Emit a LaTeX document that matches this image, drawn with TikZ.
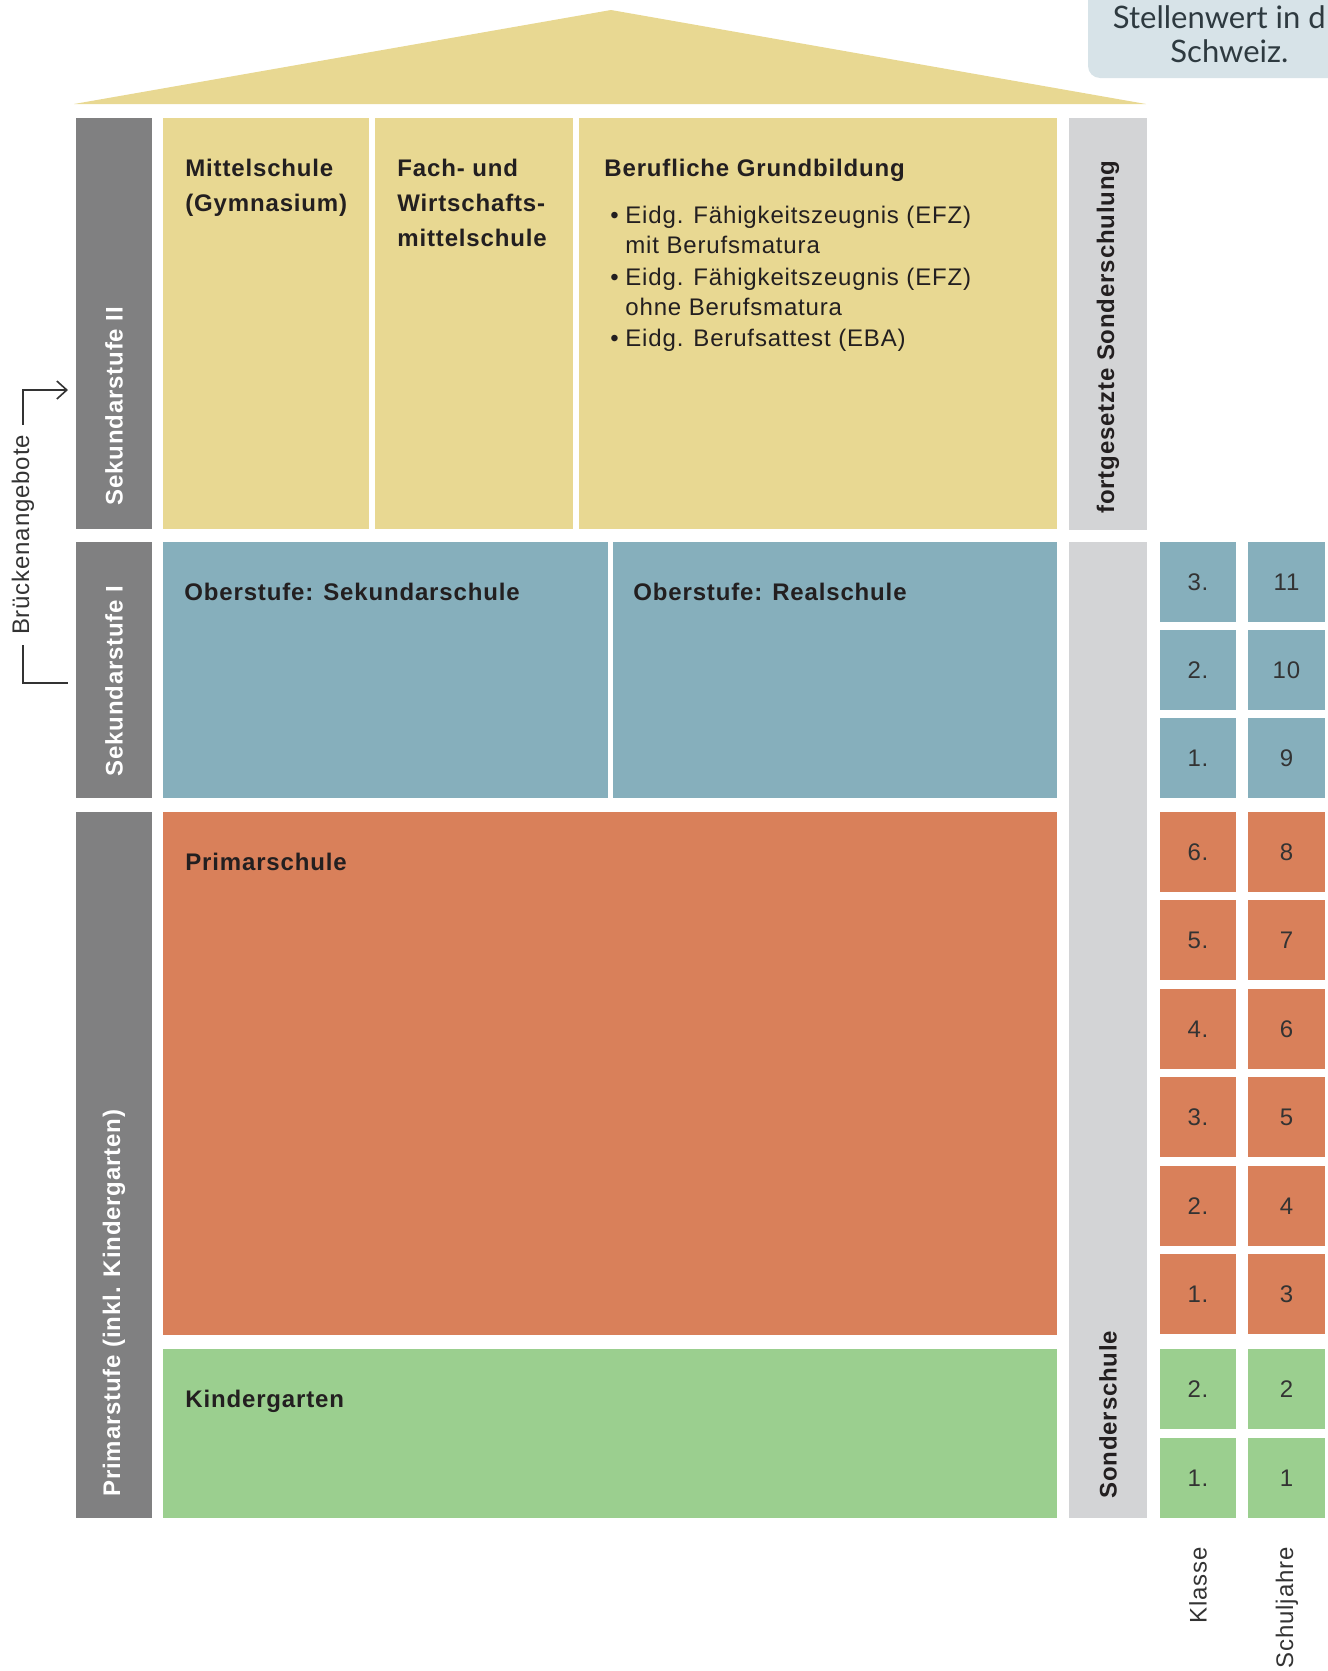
\documentclass[tikz,border=0pt]{standalone}
\usepackage{fontspec}
\setmainfont{Liberation Sans}[LetterSpace=3.5]
\newfontfamily\bubblefont{Lato}
\usetikzlibrary{positioning, fit, arrows.meta}
\definecolor{stufegray}{HTML}{808081}
\definecolor{sondergray}{HTML}{D3D4D6}
\definecolor{sekyellow}{HTML}{E8D892}
\definecolor{sekblue}{HTML}{86AFBC}
\definecolor{primorange}{HTML}{D9805A}
\definecolor{kigagreen}{HTML}{9BCF8F}
\definecolor{bubbleblue}{HTML}{D7E3E8}
\definecolor{bubbletext}{HTML}{2E3A40}
\definecolor{labelblack}{HTML}{231F20}
\definecolor{numgray}{HTML}{333333}
\newcommand{\bul}{\hspace*{3pt}\makebox[7.5pt][l]{\textbullet}}
\newcommand{\bulgap}{\hspace*{10.5pt}}

\begin{document}
\begin{tikzpicture}[x=0.5pt, y=-0.5pt,
                    block/.style={rectangle, inner sep=0pt, outer sep=0pt},
                    stufe_block/.style={block, fill=stufegray},
                    sonder_block/.style={block, fill=sondergray},
                    school_label/.style={anchor=north west, align=left, inner sep=0pt, text=labelblack, font=\bfseries\fontsize{12}{17.5}\selectfont},
                    stufe_label/.style={rotate=90, anchor=west, inner sep=0pt, text=white, font=\bfseries\fontsize{12}{14}\selectfont},
                    sonder_label/.style={stufe_label, text=labelblack},
                    year_text/.style={inner sep=0pt, text=numgray, font=\fontsize{12}{14}\selectfont},
                    axis_label/.style={rotate=90, anchor=east, inner sep=0pt, text=numgray, font=\fontsize{12}{14}\selectfont},
                    bubble_text/.style={inner sep=0pt, text=bubbletext, font=\bubblefont\fontsize{15.5}{17}\selectfont},
                    bridge_line/.style={draw=numgray, line width=0.8pt}
                ]
    \useasboundingbox (0,0) rectangle (1328,1671);

    \fill[bubbleblue, rounded corners=6pt] (1088,-20) -- (1088,78) -- (1350,78) -- (1350,-20) -- cycle;
    \node[bubble_text, anchor=base east] (stellen_a) at (1326,28) {Stellenwert in d};
    \node[bubble_text, anchor=base west] (stellen_b) at (1170,62) {Schweiz.};

    \fill[sekyellow] (74,104) -- (611,10) -- (1146,104) -- cycle;

    \node[stufe_block, fit={(76,118) (152,529)}] (sek2) {};
    \node[stufe_block, fit={(76,542) (152,798)}] (sek1) {};
    \node[stufe_block, fit={(76,812) (152,1518)}] (prim) {};
    \node[stufe_label] (sek2_label) at ([yshift=11.5pt]sek2.south) {Sekundarstufe II};
    \node[stufe_label] (sek1_label) at ([yshift=10.5pt]sek1.south) {Sekundarstufe I};
    \node[stufe_label] (prim_label) at ([yshift=10.5pt]prim.south) {Primarstufe (inkl. Kindergarten)};

    \node[block, fill=sekyellow, fit={(163,118) (369,529)}] (mittel) {};
    \node[block, fill=sekyellow, fit={(375,118) (573,529)}] (fach) {};
    \node[block, fill=sekyellow, fit={(579,118) (1057,529)}] (beruf) {};
    \node[block, fill=sekblue, fit={(163,542) (608,798)}] (obsek) {};
    \node[block, fill=sekblue, fit={(613,542) (1057,798)}] (obreal) {};
    \node[block, fill=primorange, fit={(163,812) (1057,1335)}] (primar) {};
    \node[block, fill=kigagreen, fit={(163,1349) (1057,1518)}] (kiga) {};

    \node[school_label] (mittel_text) at ([xshift=11pt, yshift=-20.5pt]mittel.north west) {Mittelschule\\(Gymnasium)};
    \node[school_label] (fach_text) at ([xshift=11pt, yshift=-20.5pt]fach.north west) {Fach- und\\Wirtschafts-\\mittelschule};
    \node[school_label, font=\fontsize{12}{15}\selectfont] (beruf_text) at ([xshift=12.5pt, yshift=-20.5pt]beruf.north west) {%
        \textbf{Berufliche Grundbildung}\\[8.5pt]
        \bul Eidg. Fähigkeitszeugnis (EFZ)\\
        \bulgap mit Berufsmatura\\[1pt]
        \bul Eidg. Fähigkeitszeugnis (EFZ)\\
        \bulgap ohne Berufsmatura\\[0.5pt]
        \bul Eidg. Berufsattest (EBA)};
    \node[school_label] (obsek_text) at ([xshift=10.5pt, yshift=-20.5pt]obsek.north west) {Oberstufe: Sekundarschule};
    \node[school_label] (obreal_text) at ([xshift=10pt, yshift=-20.5pt]obreal.north west) {Oberstufe: Realschule};
    \node[school_label] (primar_text) at ([xshift=11pt, yshift=-20.5pt]primar.north west) {Primarschule};
    \node[school_label] (kiga_text) at ([xshift=11pt, yshift=-20.5pt]kiga.north west) {Kindergarten};

    \node[sonder_block, fit={(1069,118) (1147,530)}] (fortsonder) {};
    \node[sonder_block, fit={(1069,542) (1147,1518)}] (sonder) {};
    \node[sonder_label] (fortsonder_label) at ([yshift=8pt]fortsonder.south) {fortgesetzte Sonderschulung};
    \node[sonder_label] (sonder_label) at ([yshift=9.5pt]sonder.south) {Sonderschule};

    \foreach \klasse/\jahr/\ytop/\farbe [count=\i] in {3./11/542/sekblue, 2./10/630/sekblue, 1./9/718/sekblue,
                                                     6./8/812/primorange, 5./7/900/primorange, 4./6/989/primorange,
                                                     3./5/1077/primorange, 2./4/1166/primorange, 1./3/1254/primorange,
                                                     2./2/1349/kigagreen, 1./1/1438/kigagreen}
    {
        \node[block, fill=\farbe, fit={(1160,\ytop) (1236,\ytop+80)}] (klasse\i) {};
        \node[block, fill=\farbe, fit={(1248,\ytop) (1325,\ytop+80)}] (jahr\i) {};
        \node[year_text] at (klasse\i) {\klasse};
        \node[year_text] at (jahr\i) {\jahr};
    }
    \node[axis_label] (klasse_label) at (1198,1547) {Klasse};
    \node[axis_label] (jahr_label) at (1287,1547) {Schuljahre};

    \node[rotate=90, inner xsep=5pt, inner ysep=0pt, text=numgray, font=\fontsize{12}{14}\selectfont] (bruecke) at (23,535) {Brückenangebote};
    \coordinate (bridge_in) at (68,390);
    \coordinate (bridge_out) at (68,683);
    \draw[bridge_line, -{Straight Barb[length=5pt, width=9pt]}] (bruecke.east) |- (bridge_in);
    \draw[bridge_line] (bruecke.west) |- (bridge_out);
\end{tikzpicture}
\end{document}
